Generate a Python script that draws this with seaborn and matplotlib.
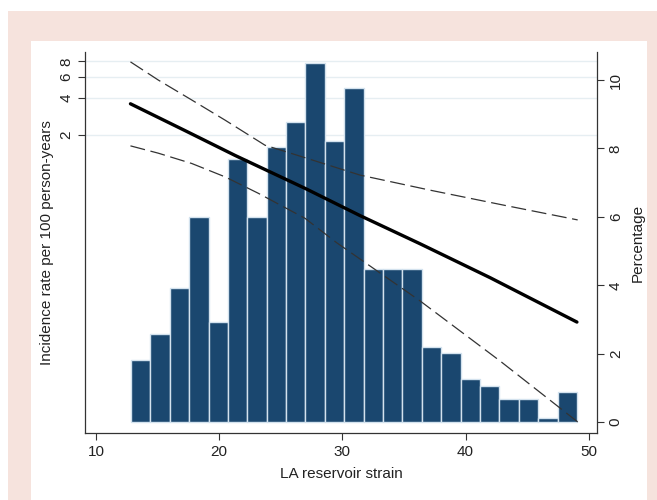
import numpy as np
import pandas as pd
import matplotlib
matplotlib.use("Agg")
import matplotlib.pyplot as plt
from matplotlib.patches import Rectangle
from matplotlib.ticker import NullLocator
import seaborn as sns

# histogram of LA reservoir strain (percent per bin)
bin_start = 12.84
bin_width = 1.574
pct = [1.81, 2.57, 3.92, 6.0, 2.93, 7.69, 6.0, 8.05, 8.78, 10.5, 8.22, 9.76,
       4.47, 4.47, 4.47, 2.18, 2.01, 1.25, 1.06, 0.68, 0.68, 0.13, 0.87]

# fitted incidence rate and 95% CI (per 100 person-years, log axis)
fit_x = [12.8, 17.2, 21.3, 27.0, 31.4, 36.3, 42.0, 49.04]
fit_rate = [3.6, 2.18, 1.36, 0.73, 0.44, 0.258, 0.136, 0.059]
upper_x = [12.8, 15.06, 17.77, 20.47, 23.72, 26.7, 31.43, 37.11, 43.04, 49.1]
upper_rate = [7.93, 5.63, 3.87, 2.65, 1.65, 1.33, 0.94, 0.708, 0.535, 0.404]
lower_x = [12.8, 15.06, 17.77, 20.47, 23.18, 26.96, 29.56, 36.30, 42.79, 49.1]
lower_rate = [1.63, 1.42, 1.17, 0.91, 0.667, 0.417, 0.262, 0.088, 0.0284, 0.0090]

rate_ticks = [2, 4, 6, 8]
pct_ticks = [0, 2, 4, 6, 8, 10]
x_ticks = [10, 20, 30, 40, 50]

navy = "#1a476f"
pink = "#f6e3dd"
txt = "#222222"

sns.set_style("white")
plt.rcParams["font.family"] = ["Liberation Sans", "DejaVu Sans"]
plt.rcParams["font.size"] = 11

fig = plt.figure(figsize=(6.57, 5.0), dpi=100)
fig.patches.append(Rectangle((8 / 657, 0), 1, 1 - 11 / 500, transform=fig.transFigure,
                             facecolor=pink, edgecolor="none", zorder=-3))
fig.patches.append(Rectangle((31 / 657, 0), (647 - 31) / 657, 1 - 41 / 500,
                             transform=fig.transFigure, facecolor="white",
                             edgecolor="none", zorder=-2))

pos = [85 / 657, 1 - 433 / 500, (597 - 85) / 657, (433 - 52) / 500]
ax = fig.add_axes(pos)
ax.set_facecolor("white")
ax.set_yscale("log")
ax.set_xlim(9.11, 50.67)
ax.set_ylim(0.0073, 9.55)
ax.set_yticks(rate_ticks)
ax.yaxis.set_minor_locator(NullLocator())
ax.set_yticklabels([str(t) for t in rate_ticks], rotation=90, va="center")
ax.set_xticks(x_ticks)
ax.grid(axis="y", color="#e6eef2", lw=1)
ax.set_axisbelow(True)
ax.set_xlabel("LA reservoir strain", color=txt, fontsize=11, labelpad=6)
ax.set_ylabel("Incidence rate per 100 person-years", color=txt, fontsize=11, labelpad=4)

# bars on the right axis
ax2 = ax.twinx()
edges = [bin_start + bin_width * i for i in range(len(pct) + 1)]
hist_df = pd.DataFrame({"strain": [e + bin_width / 2 for e in edges[:-1]], "pct": pct})
sns.histplot(data=hist_df, x="strain", weights="pct", bins=edges, ax=ax2,
             color=navy, alpha=1, edgecolor="#d3e2ee", linewidth=1.0)
ax2.set_ylim(-0.32, 10.82)
ax2.set_xlim(9.11, 50.67)
ax2.set_yticks(pct_ticks)
ax2.set_yticklabels([str(t) for t in pct_ticks], rotation=90, va="center")
ax2.set_ylabel("Percentage", color=txt, fontsize=11, labelpad=6)
ax2.yaxis.set_label_position("right")

# lines on top of the bars, sharing the log axis
ax3 = fig.add_axes(pos, sharex=ax, sharey=ax)
ax3.patch.set_visible(False)
ax3.axis("off")
sns.lineplot(x=fit_x, y=fit_rate, ax=ax3, color="black", lw=2.4)
sns.lineplot(x=upper_x, y=upper_rate, ax=ax3, color="#333333", lw=0.9,
             linestyle=(0, (12, 4.5)))
sns.lineplot(x=lower_x, y=lower_rate, ax=ax3, color="#333333", lw=0.9,
             linestyle=(0, (12, 4.5)))
ax3.set_xlim(9.11, 50.67)
ax3.set_ylim(0.0073, 9.55)

for a in (ax, ax2):
    a.spines["top"].set_visible(False)
    for s in a.spines.values():
        s.set_color("#333333")
        s.set_linewidth(0.9)
    a.tick_params(colors="#333333", labelcolor=txt, labelsize=11, length=5,
                  width=0.8, direction="out")
ax.spines["right"].set_visible(False)
ax2.spines["left"].set_visible(False)
ax2.spines["bottom"].set_visible(False)
ax.tick_params(axis="both", left=True, bottom=True)
ax2.tick_params(axis="y", right=True)

fig.savefig("out.png", dpi=100)
